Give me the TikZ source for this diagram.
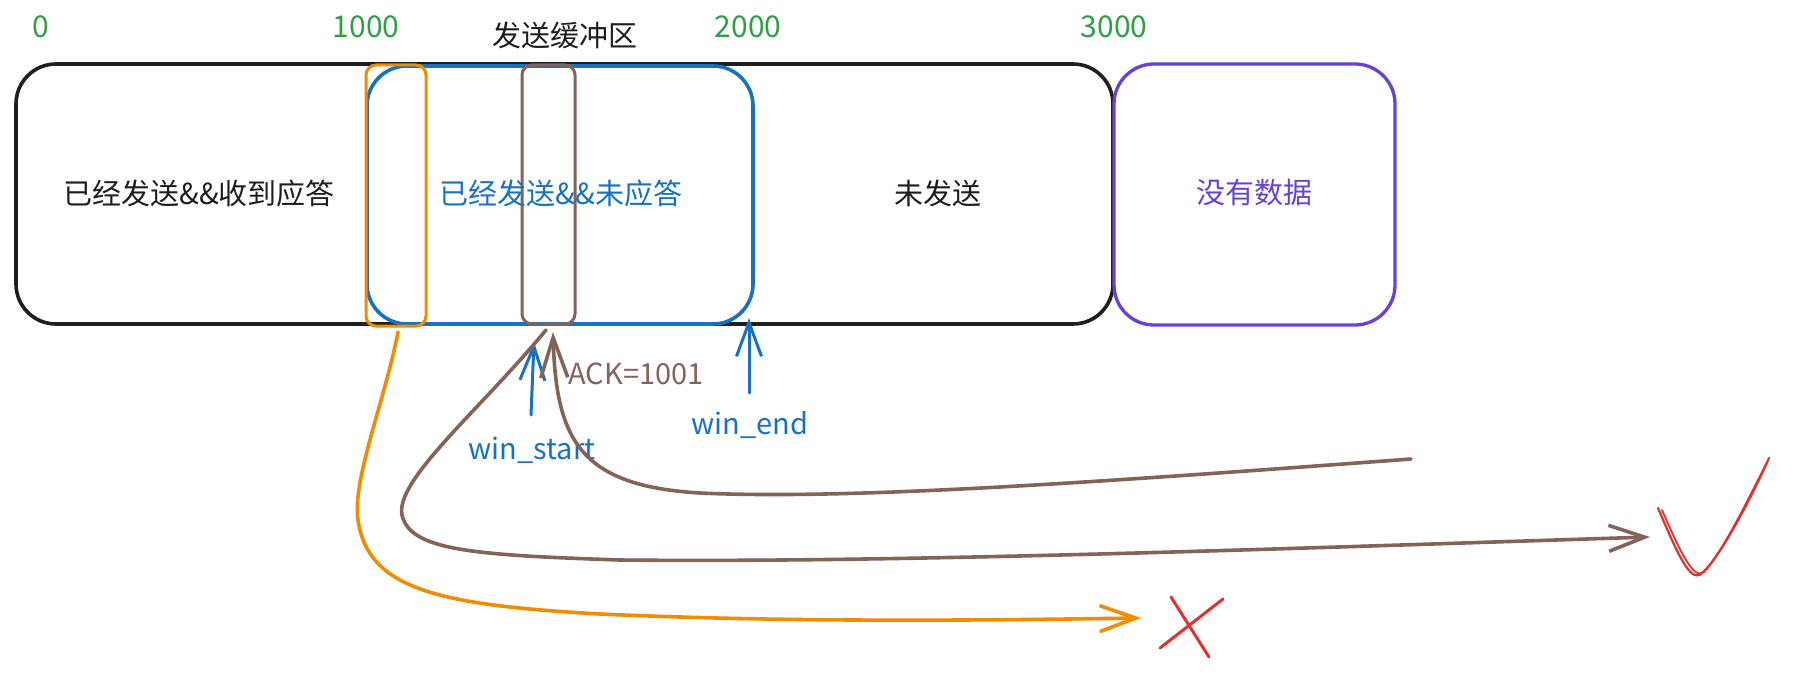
\documentclass[tikz,border=0pt]{standalone}
\usepackage{fontspec}
\setmainfont{Noto Sans CJK SC}
\usetikzlibrary{arrows.meta}
\definecolor{exblack}{HTML}{1E1E1E}
\definecolor{exblue}{HTML}{1971C2}
\definecolor{exorange}{HTML}{F08C00}
\definecolor{exbrown}{HTML}{846358}
\definecolor{expurple}{HTML}{6741D9}
\definecolor{exgreen}{HTML}{2F9E44}
\definecolor{exred}{HTML}{E03131}
\tikzset{
  boxline/.style={line width=3.6pt, rounded corners=40pt},
  slimbox/.style={line width=3pt, rounded corners=10pt},
  cjk/.style={font=\fontsize{29pt}{32pt}\selectfont, inner sep=0pt},
  num/.style={font=\fontsize{30pt}{32pt}\selectfont, text=exgreen, inner sep=0pt},
  lat/.style={font=\fontsize{29pt}{32pt}\selectfont, inner sep=0pt},
  conn/.style={line width=3.6pt, line cap=round},
  tipA/.style={-{Straight Barb[length=36pt,width=26pt,line width=3.6pt]}},
}
\begin{document}
\begin{tikzpicture}[x=1pt,y=-1pt]
\useasboundingbox[fill=white] (0,0) rectangle (1806,682);
% boxes
\draw[boxline, exblack] (16,64) rectangle (1113,324);
\draw[boxline, exblue] (367,66) rectangle (753,324);
\draw[slimbox, exorange] (366,65) rectangle (426,326);
\draw[slimbox, exbrown] (522,65) rectangle (575,324);
\draw[boxline, expurple, line width=3.3pt] (1114,64) rectangle (1395,325);
% scale labels
\node[num] (n0) at (41,27) {0};
\node[num] (n1) at (366,27) {1000};
\node[num] (n2) at (748,27) {2000};
\node[num] (n3) at (1114,27) {3000};
\node[cjk, text=exblack] (title) at (565,35) {发送缓冲区};
% box texts
\node[cjk, text=exblack] (t1) at (199,193) {已经发送\&\&收到应答};
\node[cjk, text=exblue] (t2) at (561,193) {已经发送\&\&未应答};
\node[cjk, text=exblack] (t3) at (938,193) {未发送};
\node[cjk, text=expurple] (t4) at (1254,193) {没有数据};
% labels
\node[lat, text=exbrown] (ack) at (636,374) {ACK=1001};
\node[lat, text=exblue] (ws) at (532,450) {win\_start};
\node[lat, text=exblue] (we) at (750,425) {win\_end};
% coordinates
\coordinate (wsA) at (531,415);
\coordinate (wsB) at (534,342);
\coordinate (weA) at (749,393);
\coordinate (weB) at (749,318);
\coordinate (oA) at (398,332);
\coordinate (oB) at (1141,618);
\coordinate (bA) at (546,330);
\coordinate (bB) at (1650,537);
\coordinate (cA) at (1411,459);
\coordinate (cB) at (553,332);
% blue arrows
\draw[conn, exblue, -{Straight Barb[length=34pt,width=25pt,line width=3pt]}, line width=3pt] (wsA) -- (wsB);
\draw[conn, exblue, -{Straight Barb[length=34pt,width=25pt,line width=3pt]}, line width=3pt] (weA) -- (weB);
% orange arrow
\draw[conn, exorange, tipA] (oA) .. controls (385,400) and (352,480) .. (358,520)
   .. controls (368,590) and (440,605) .. (600,614)
   .. controls (800,623) and (1000,620) .. (oB);
% brown arrows
\draw[conn, exbrown, tipA] (bA) .. controls (480,410) and (395,480) .. (402,515)
   .. controls (410,550) and (470,555) .. (620,560)
   .. controls (900,563) and (1300,548) .. (bB);
\draw[conn, exbrown, -{Straight Barb[length=40pt,width=27pt,line width=3.6pt]}] (cA) .. controls (1100,482) and (850,500) .. (700,493)
   .. controls (580,486) and (556,440) .. (cB);
% red cross
\draw[exred, line width=3pt, line cap=round] (1171,597) -- (1209,657);
\draw[exred, line width=3pt, line cap=round] (1223,599) -- (1160,648);
% check mark
\draw[exred, line width=2.2pt, line cap=round] (1658,508) .. controls (1678,555) and (1690,582) .. (1701,574)
   .. controls (1718,560) and (1748,505) .. (1769,458);
\draw[exred, line width=1.8pt, line cap=round] (1662,510) .. controls (1682,556) and (1694,580) .. (1704,572)
   .. controls (1720,556) and (1748,500) .. (1766,464);
\end{tikzpicture}
\end{document}
